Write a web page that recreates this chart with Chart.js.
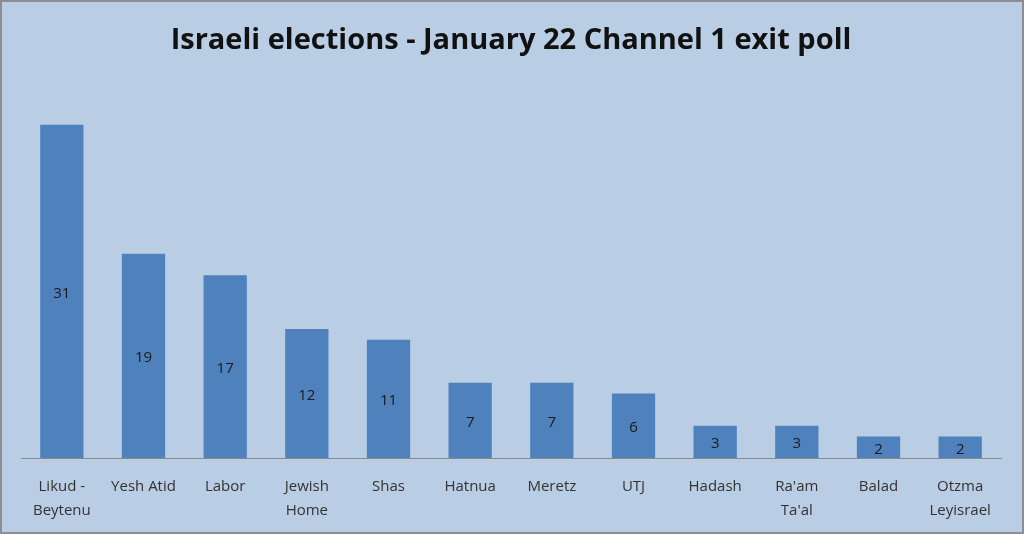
<!DOCTYPE html>
<html>
<head>
<meta charset="utf-8">
<script src="https://cdn.jsdelivr.net/npm/chart.js@4"></script>
<style>
    html, body { margin: 0; padding: 0; }
    #wrap {
        width: 1024px; height: 534px; box-sizing: border-box;
        border: 2px solid #8e8e8e; background: #b9cde5;
    }
    canvas { display: block; }
</style>
</head>
<body>
<div id="wrap"><canvas id="graficoEleicoes" width="1020" height="530"></canvas></div>
<script>
const partidos = [
    ['Likud -', 'Beytenu'], 'Yesh Atid', 'Labor', ['Jewish', 'Home'], 'Shas', 'Hatnua',
    'Meretz', 'UTJ', 'Hadash', ["Ra'am", "Ta'al"], 'Balad', ['Otzma', 'Leyisrael']
];
const cadeiras = [31, 19, 17, 12, 11, 7, 7, 6, 3, 3, 2, 2];

// rótulos no meio de cada barra
const rotulosNaBarra = {
    id: 'rotulosNaBarra',
    afterDatasetsDraw(chart) {
        const ctx = chart.ctx;
        const meta = chart.getDatasetMeta(0);
        ctx.save();
        ctx.font = '15px "Open Sans", sans-serif';
        ctx.fillStyle = '#1a1a1a';
        ctx.textAlign = 'center';
        ctx.textBaseline = 'middle';
        meta.data.forEach((bar, i) => {
            const p = bar.getProps(['x', 'y', 'base'], true);
            ctx.fillText(cadeiras[i], p.x, (p.y + p.base) / 2 + 2);
        });
        ctx.restore();
    }
};

const ctx = document.getElementById('graficoEleicoes').getContext('2d');
new Chart(ctx, {
    type: 'bar',
    data: {
        labels: partidos,
        datasets: [{
            label: 'Seats',
            data: cadeiras,
            backgroundColor: '#4f81bd',
            categoryPercentage: 1,
            barPercentage: 0.53,
        }],
    },
    options: {
        responsive: false,
        animation: false,
        devicePixelRatio: 1,
        layout: { padding: { left: 19, right: 21, top: 0, bottom: 0 } },
        plugins: {
            legend: { display: false },
            tooltip: { enabled: false },
            title: {
                display: true,
                text: 'Israeli elections - January 22 Channel 1 exit poll',
                color: '#111',
                font: { family: '"Open Sans", sans-serif', size: 29, weight: 'bold' },
                padding: { top: 21, bottom: 24 },
            },
        },
        scales: {
            x: {
                grid: { display: false },
                border: { display: true, color: '#8a8a8a', width: 1 },
                ticks: {
                    color: '#333',
                    font: { family: '"Open Sans", sans-serif', size: 15, lineHeight: 1.6 },
                    padding: 9,
                    maxRotation: 0,
                    autoSkip: false,
                },
            },
            y: {
                display: false,
                min: 0,
                max: 35,
            },
        },
    },
    plugins: [rotulosNaBarra],
});
</script>
</body>
</html>
